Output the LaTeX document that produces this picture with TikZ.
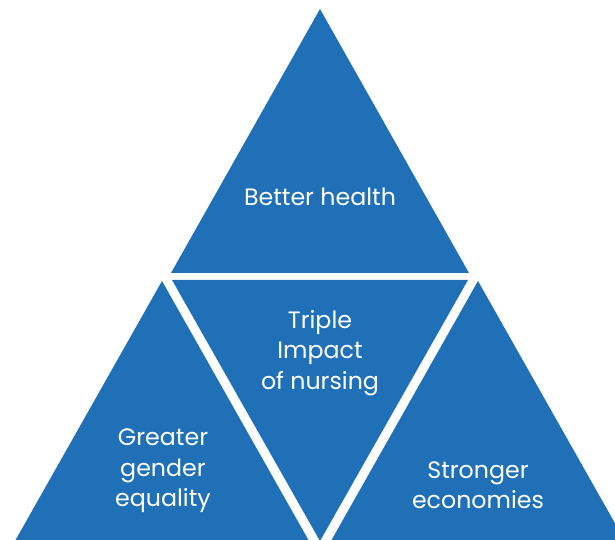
\documentclass[tikz,border=0pt]{standalone}
\usepackage{fontspec}
\setmainfont{Poppins}
\usepackage{xcolor}
\usepackage{tikz}
\usetikzlibrary{positioning}
\definecolor{nurseblue}{RGB}{31,112,182}

\begin{document}
\begin{tikzpicture}[x=0.02cm,y=-0.02cm]
	
	\useasboundingbox (0,0) rectangle (615,540);
	\clip (0,0) rectangle (615,540);
	
	% the four triangles
	\fill[nurseblue] (320,9) -- (171,273) -- (469,273) -- cycle;
	\fill[nurseblue] (172,280) -- (468,280) -- (320,541) -- cycle;
	\fill[nurseblue] (162,281) -- (15,541) -- (309,541) -- cycle;
	\fill[nurseblue] (478,281) -- (331,541) -- (625,541) -- cycle;
	
	% labels
	\node[white,align=center,font=\fontsize{13.5}{17.3}\selectfont] (health) at (320,197) {Better health};
	\node[white,align=center,font=\fontsize{13.5}{17.3}\selectfont] (triple) at (320,353) {Triple\\Impact\\of nursing};
	\node[white,align=center,font=\fontsize{13.5}{17.3}\selectfont] (gender) at (163,471) {Greater\\gender\\equality};
	\node[white,align=center,font=\fontsize{13.5}{17.3}\selectfont] (econ) at (478,485) {Stronger\\economies};
	
\end{tikzpicture}
\end{document}
